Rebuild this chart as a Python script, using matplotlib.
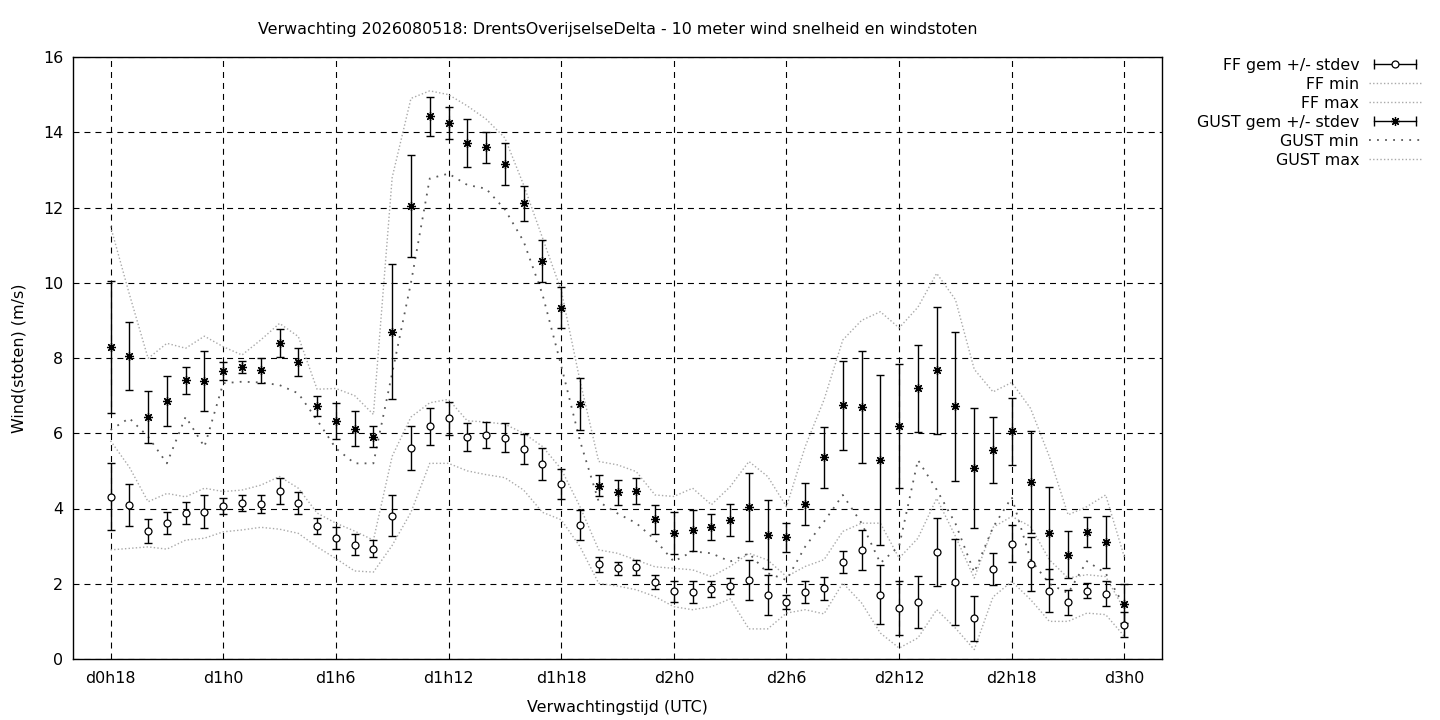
import matplotlib
matplotlib.use("Agg")
import matplotlib.pyplot as plt
from matplotlib.lines import Line2D
from matplotlib.legend_handler import HandlerLine2D, HandlerTuple

plt.rcParams['font.family'] = ['DejaVu Sans']
plt.rcParams['lines.scale_dashes'] = False

# uren sinds d0h0 (d0h18 .. d3h0)
uren = list(range(18, 73))

ff_gem = [4.31, 4.09, 3.40, 3.61, 3.87, 3.91, 4.07, 4.14, 4.12, 4.47, 4.15, 3.53, 3.22,
          3.04, 2.93, 3.81, 5.61, 6.19, 6.40, 5.90, 5.96, 5.88, 5.58, 5.18, 4.65, 3.56,
          2.52, 2.41, 2.44, 2.04, 1.80, 1.78, 1.86, 1.94, 2.10, 1.70, 1.51, 1.78, 1.88,
          2.58, 2.90, 1.71, 1.35, 1.51, 2.84, 2.05, 1.08, 2.39, 3.06, 2.52, 1.81, 1.51,
          1.81, 1.73, 0.91]
ff_std = [0.89, 0.55, 0.31, 0.30, 0.29, 0.44, 0.22, 0.21, 0.24, 0.34, 0.29, 0.22, 0.30,
          0.28, 0.22, 0.55, 0.58, 0.49, 0.44, 0.37, 0.34, 0.38, 0.39, 0.43, 0.39, 0.39,
          0.20, 0.18, 0.20, 0.18, 0.28, 0.28, 0.20, 0.20, 0.52, 0.53, 0.19, 0.28, 0.31,
          0.29, 0.54, 0.79, 0.72, 0.69, 0.90, 1.15, 0.59, 0.42, 0.49, 0.71, 0.57, 0.33,
          0.20, 0.33, 0.33]
ff_min = [2.90, 2.94, 2.98, 2.92, 3.16, 3.21, 3.38, 3.43, 3.50, 3.45, 3.34, 2.98, 2.67,
          2.34, 2.31, 3.02, 3.90, 5.20, 5.20, 5.00, 4.90, 4.82, 4.49, 3.90, 3.70, 2.99,
          2.01, 1.94, 1.84, 1.66, 1.39, 1.31, 1.39, 1.60, 0.80, 0.80, 1.22, 1.31, 1.20,
          2.02, 1.49, 0.69, 0.29, 0.56, 1.31, 0.82, 0.25, 1.65, 2.06, 1.58, 1.00, 1.00,
          1.22, 1.18, 0.60]
ff_max = [5.80, 5.10, 4.18, 4.40, 4.31, 4.54, 4.45, 4.49, 4.62, 4.85, 4.54, 3.88, 3.61,
          3.40, 3.16, 5.39, 6.43, 6.81, 6.90, 6.33, 6.30, 6.24, 6.00, 5.65, 5.05, 4.05,
          2.90, 2.81, 2.63, 2.45, 2.41, 2.37, 2.19, 2.46, 2.81, 2.63, 2.19, 2.46, 2.64,
          3.39, 3.61, 3.61, 2.68, 3.21, 4.27, 3.26, 2.15, 3.50, 3.79, 3.52, 2.64, 2.15,
          2.24, 2.19, 1.31]

gust_gem = [8.29, 8.05, 6.42, 6.86, 7.41, 7.39, 7.65, 7.77, 7.67, 8.39, 7.89, 6.72, 6.33,
            6.12, 5.91, 8.70, 12.04, 14.43, 14.24, 13.71, 13.60, 13.15, 12.11, 10.57, 9.34,
            6.78, 4.60, 4.43, 4.47, 3.71, 3.35, 3.42, 3.51, 3.70, 4.04, 3.30, 3.23, 4.12,
            5.36, 6.74, 6.70, 5.29, 6.19, 7.19, 7.67, 6.72, 5.07, 5.55, 6.05, 4.70, 3.35,
            2.77, 3.38, 3.11, 1.47]
gust_std = [1.75, 0.90, 0.69, 0.67, 0.36, 0.79, 0.24, 0.16, 0.34, 0.37, 0.38, 0.26, 0.48,
            0.47, 0.28, 1.80, 1.36, 0.52, 0.43, 0.64, 0.41, 0.56, 0.46, 0.56, 0.55, 0.70,
            0.28, 0.34, 0.35, 0.39, 0.56, 0.54, 0.35, 0.42, 0.90, 0.92, 0.39, 0.57, 0.81,
            1.18, 1.48, 2.27, 1.65, 1.16, 1.68, 1.98, 1.60, 0.88, 0.89, 1.35, 1.23, 0.63,
            0.39, 0.68, 0.52]
gust_min = [6.09, 6.40, 5.91, 5.20, 6.44, 5.64, 7.33, 7.37, 7.35, 7.28, 7.06, 6.35, 5.60,
            5.20, 5.20, 7.60, 10.00, 12.77, 12.90, 12.60, 12.50, 11.95, 11.10, 9.70, 7.80,
            5.80, 4.18, 3.87, 3.61, 3.17, 2.59, 2.86, 2.81, 2.59, 2.81, 2.28, 2.10, 2.99,
            3.65, 4.36, 3.61, 2.55, 3.00, 5.29, 4.50, 3.60, 2.30, 3.50, 4.30, 2.64, 2.00,
            1.75, 2.60, 2.28, 1.40]
gust_max = [11.50, 9.70, 7.99, 8.39, 8.26, 8.58, 8.30, 8.08, 8.48, 8.92, 8.57, 7.17, 7.19,
            7.00, 6.50, 12.80, 14.90, 15.10, 15.00, 14.70, 14.35, 13.85, 12.60, 11.20, 9.80,
            7.40, 5.25, 5.16, 4.98, 4.36, 4.32, 4.54, 4.10, 4.58, 5.25, 4.85, 4.05, 5.65,
            6.89, 8.48, 9.00, 9.23, 8.80, 9.35, 10.25, 9.55, 7.70, 7.10, 7.35, 6.66, 5.38,
            3.83, 4.05, 4.36, 2.70]

tick_uren = [18, 24, 30, 36, 42, 48, 54, 60, 66, 72]
tick_labels = ["d0h18", "d1h0", "d1h6", "d1h12", "d1h18", "d2h0", "d2h6", "d2h12", "d2h18", "d3h0"]

fs = 11.4
licht = "#a9a9a9"
donker = "#5a5a5a"
stip_licht = (0, (1.0, 1.6))
stip_donker = (0, (1.3, 4.5))

fig = plt.figure(figsize=(14.4, 7.2), dpi=100)
ax = fig.add_axes([73 / 1440, 61 / 720, 1089 / 1440, 602 / 720])

# omhullenden
ax.plot(uren, ff_min, color=licht, lw=1.0, ls=stip_licht, zorder=2)
ax.plot(uren, ff_max, color=licht, lw=1.0, ls=stip_licht, zorder=2)
ax.plot(uren, gust_min, color=donker, lw=1.3, ls=stip_donker, zorder=2)
ax.plot(uren, gust_max, color=licht, lw=1.0, ls=stip_licht, zorder=2)

# gemiddelde +/- stdev
ax.errorbar(uren, ff_gem, yerr=ff_std, fmt='none', ecolor='black', elinewidth=1.0,
            capsize=3.1, capthick=1.0, zorder=3)
ax.plot(uren, ff_gem, ls='none', marker='o', ms=5.0, mfc='white', mec='black', mew=0.9, zorder=4)
ax.errorbar(uren, gust_gem, yerr=gust_std, fmt='none', ecolor='black', elinewidth=1.0,
            capsize=3.1, capthick=1.0, zorder=3)
ax.plot(uren, gust_gem, ls='none', marker=(8, 2, 0), ms=6.5, mec='black', mew=0.9, zorder=4)

ax.set_xlim(16, 74)
ax.set_ylim(0, 16)
ax.set_xticks(tick_uren)
ax.set_xticklabels(tick_labels)
ax.set_yticks(range(0, 17, 2))
ax.tick_params(length=0, labelsize=fs, colors='black')
ax.tick_params(axis='x', pad=8.5)
ax.tick_params(axis='y', pad=7)
ax.grid(True, color='black', lw=0.8, ls=(0, (4.3, 3.6)))
ax.set_axisbelow(True)
for sp in ax.spines.values():
    sp.set_linewidth(1.0)

ax.set_title("Verwachting 2026080518: DrentsOverijselseDelta - 10 meter wind snelheid en windstoten",
             fontsize=fs, pad=16.5)
ax.set_xlabel("Verwachtingstijd (UTC)", fontsize=fs, labelpad=10)
ax.set_ylabel("Wind(stoten) (m/s)", fontsize=fs, labelpad=12)

# legenda in gnuplot-stijl
cap = Line2D([], [], color='black', lw=1.0, marker='|', ms=7, mew=1.0)
ring = Line2D([], [], ls='none', marker='o', ms=5.0, mfc='white', mec='black', mew=0.9)
ster = Line2D([], [], ls='none', marker=(8, 2, 0), ms=6.5, mec='black', mew=0.9)
h_ffmin = Line2D([], [], color=licht, lw=1.0, ls=stip_licht)
h_ffmax = Line2D([], [], color=licht, lw=1.0, ls=stip_licht)
h_gmin = Line2D([], [], color=donker, lw=1.3, ls=stip_donker)
h_gmax = Line2D([], [], color=licht, lw=1.0, ls=stip_licht)
cap2 = Line2D([], [], color='black', lw=1.0, marker='|', ms=7, mew=1.0)

hmap = {
    cap: HandlerLine2D(numpoints=2), cap2: HandlerLine2D(numpoints=2),
    ring: HandlerLine2D(numpoints=1), ster: HandlerLine2D(numpoints=1),
    tuple: HandlerTuple(ndivide=1, pad=0),
}
fig.legend([(cap, ring), h_ffmin, h_ffmax, (cap2, ster), h_gmin, h_gmax],
           ["FF gem +/- stdev", "FF min", "FF max", "GUST gem +/- stdev", "GUST min", "GUST max"],
           handler_map=hmap, loc='upper right', bbox_to_anchor=(1421 / 1440, 1 - 58 / 720),
           frameon=False, markerfirst=False, fontsize=fs, handlelength=3.3, handletextpad=0.6,
           labelspacing=0.25, borderpad=0, borderaxespad=0)

fig.savefig("out.png", dpi=100)
